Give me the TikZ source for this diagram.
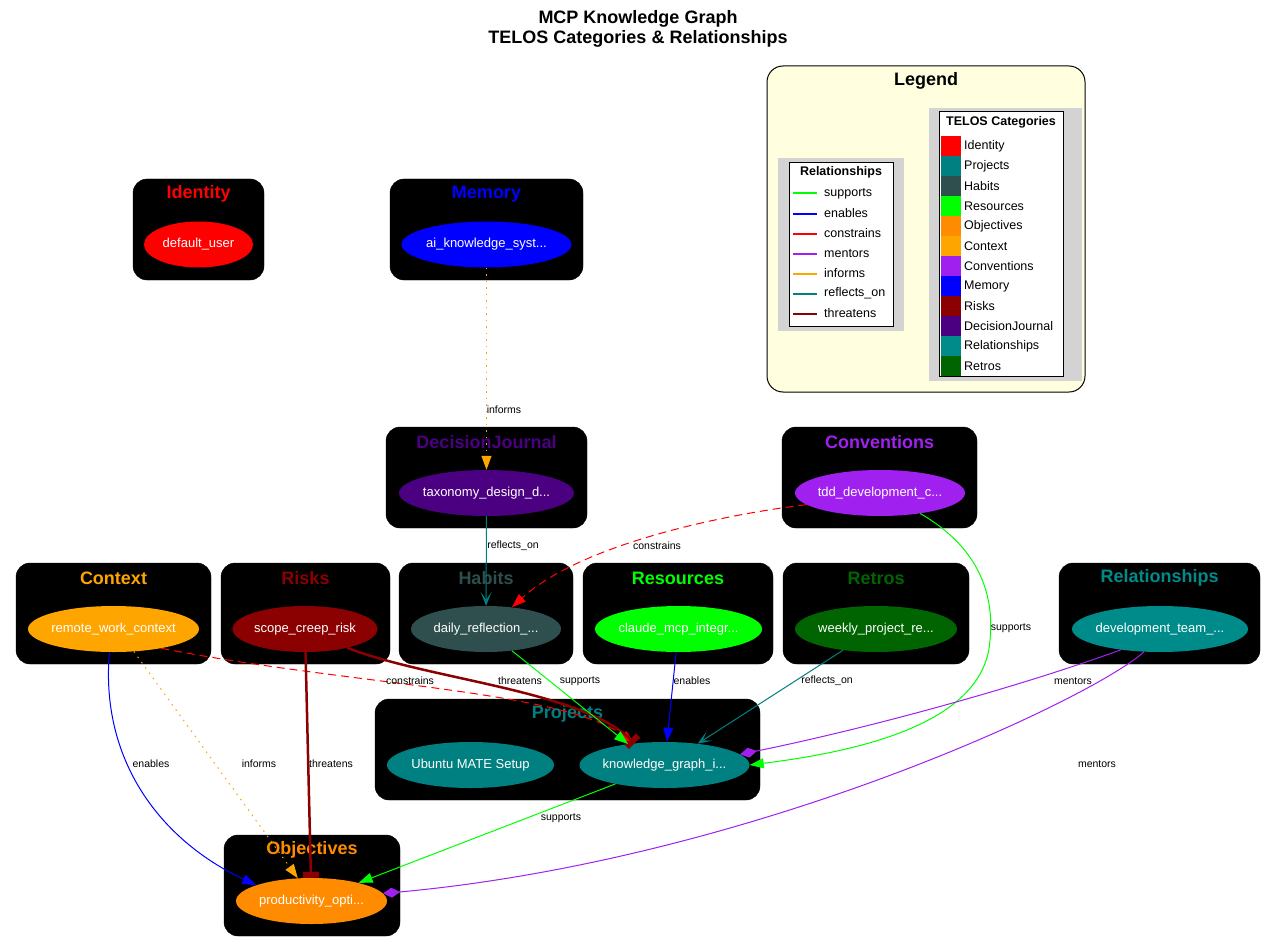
\documentclass[tikz,border=0pt]{standalone}
\usepackage{fontspec}
\setmainfont{Liberation Sans}
\usetikzlibrary{arrows.meta,shapes.geometric}
\definecolor{colIdentity}{HTML}{FF0000}
\definecolor{colProjects}{HTML}{008080}
\definecolor{colHabits}{HTML}{2F4F4F}
\definecolor{colResources}{HTML}{00FF00}
\definecolor{colObjectives}{HTML}{FF8C00}
\definecolor{colContext}{HTML}{FFA500}
\definecolor{colConventions}{HTML}{A020F0}
\definecolor{colMemory}{HTML}{0000FF}
\definecolor{colRisks}{HTML}{8B0000}
\definecolor{colDecision}{HTML}{4B0082}
\definecolor{colRelations}{HTML}{008B8B}
\definecolor{colRetros}{HTML}{006400}
\definecolor{legendYellow}{HTML}{FFFFE0}
\definecolor{legendGrey}{HTML}{D3D3D3}
% one TELOS category box: name, x1, y1, x2, y2, colour, title
\newcommand{\telosbox}[7]{%
  \draw[cluster] (#2,#3) rectangle (#4,#5);
  \node[ctitle, text=#6] (#1) at ({(#2+#4)/2},{#3+15}) {#7};
}
% legend rows: name, y, colour, text
\newcommand{\relrow}[4]{%
  \draw[line width=2pt, #3] (793,#2) -- (817,#2);
  \node[legtext, anchor=west] (#1) at (823,#2) {#4};
}
\newcommand{\catrow}[4]{%
  \fill[#3] (941,#2) rectangle (961,{#2+20});
  \node[legtext, anchor=west] (#1) at (963,{#2+10}) {#4};
}

\begin{document}
\begin{tikzpicture}[x=1pt, y=-1pt,
    cluster/.style={draw=black, fill=black, rounded corners=14pt},
    ctitle/.style={font=\fontsize{18}{20}\selectfont\bfseries, inner sep=0pt},
    item/.style={ellipse, inner xsep=-8pt, inner ysep=0pt, minimum height=46pt, text=white,
      font=\fontsize{13}{15}\selectfont},
    lbl/.style={font=\fontsize{10.5}{12}\selectfont, inner sep=1pt},
    legtext/.style={font=\fontsize{12.5}{14}\selectfont, inner sep=1pt},
    edge/.style={line width=1pt, -{Triangle[length=14pt, width=10pt]}},
    supports/.style={edge, draw=colResources},
    enables/.style={edge, draw=colMemory},
    constrains/.style={edge, draw=colIdentity, dash pattern=on 8pt off 5pt},
    informs/.style={edge, draw=colContext, dash pattern=on 1.5pt off 5pt},
    reflects/.style={line width=1pt, draw=colProjects,
      -{Stealth[length=14pt, width=11pt, inset=8pt]}},
    mentors/.style={line width=1pt, draw=colConventions,
      -{Diamond[length=17pt, width=10pt]}},
    threatens/.style={line width=2.5pt, draw=colRisks,
      -{Rectangle[length=6pt, width=16pt]}}]
  \fill[white] (0,0) rectangle (1276,952);
  \node[font=\fontsize{18}{19.7}\selectfont\bfseries, align=center] (title) at (638,29)
    {MCP Knowledge Graph\\TELOS Categories \& Relationships};

  % ---------------------------------------------------------------- legend
  \draw[fill=legendYellow, rounded corners=16pt, line width=1pt] (767,66) rectangle (1085,392);
  \node[font=\fontsize{18}{20}\selectfont\bfseries] (legTitle) at (926,81) {Legend};
  \fill[legendGrey] (778,158) rectangle (904,331);
  \draw[fill=white, line width=1pt] (789,163) rectangle (893,326);
  \node[legtext, font=\fontsize{12.5}{14}\selectfont\bfseries] (relHead) at (841,172) {Relationships};
  \relrow{rSupports}{193.5}{colResources}{supports}
  \relrow{rEnables}{213.5}{colMemory}{enables}
  \relrow{rConstrains}{233.5}{colIdentity}{constrains}
  \relrow{rMentors}{253.5}{colConventions}{mentors}
  \relrow{rInforms}{273.5}{colContext}{informs}
  \relrow{rReflects}{293.5}{colProjects}{reflects\_on}
  \relrow{rThreatens}{313.5}{colRisks}{threatens}
  \fill[legendGrey] (929,108) rectangle (1082,381);
  \draw[fill=white, line width=1pt] (939,112) rectangle (1063,376);
  \node[legtext, font=\fontsize{12.5}{14}\selectfont\bfseries] (catHead) at (1001,122.5) {TELOS Categories};
  \catrow{kIdentity}{136}{colIdentity}{Identity}
  \catrow{kProjects}{156}{colProjects}{Projects}
  \catrow{kHabits}{176}{colHabits}{Habits}
  \catrow{kResources}{196}{colResources}{Resources}
  \catrow{kObjectives}{216}{colObjectives}{Objectives}
  \catrow{kContext}{236}{colContext}{Context}
  \catrow{kConventions}{256}{colConventions}{Conventions}
  \catrow{kMemory}{276}{colMemory}{Memory}
  \catrow{kRisks}{296}{colRisks}{Risks}
  \catrow{kDecision}{316}{colDecision}{DecisionJournal}
  \catrow{kRelations}{336}{colRelations}{Relationships}
  \catrow{kRetros}{356}{colRetros}{Retros}

  % ---------------------------------------------------------------- category boxes
  \telosbox{tIdentity}{133}{179}{264}{280}{colIdentity}{Identity}
  \telosbox{tMemory}{390}{179}{583}{280}{colMemory}{Memory}
  \telosbox{tDecision}{386}{427}{587}{528}{colDecision}{DecisionJournal}
  \telosbox{tConventions}{782}{427}{977}{528}{colConventions}{Conventions}
  \telosbox{tContext}{16}{563}{211}{664}{colContext}{Context}
  \telosbox{tRisks}{221}{563}{390}{664}{colRisks}{Risks}
  \telosbox{tHabits}{399}{563}{573}{664}{colHabits}{Habits}
  \telosbox{tResources}{583}{563}{773}{664}{colResources}{Resources}
  \telosbox{tRetros}{783}{563}{969}{664}{colRetros}{Retros}
  \telosbox{tRelations}{1059}{563}{1260}{664}{colRelations}{Relationships}
  \telosbox{tProjects}{375}{699}{760}{800}{colProjects}{Projects}
  \telosbox{tObjectives}{224}{835}{400}{936}{colObjectives}{Objectives}

  % ---------------------------------------------------------------- entities
  \node[item, fill=colIdentity, minimum width=109pt] (defUser) at (198.5,244.5) {default\_user};
  \node[item, fill=colMemory, minimum width=170pt] (aiKnow) at (486.5,244.5) {ai\_knowledge\_syst...};
  \node[item, fill=colDecision, minimum width=175pt] (taxDes) at (486.5,493) {taxonomy\_design\_d...};
  \node[item, fill=colConventions, minimum width=170pt] (tddDev) at (880,493) {tdd\_development\_c...};
  \node[item, fill=colContext, minimum width=171pt] (remWork) at (113.5,629) {remote\_work\_context};
  \node[item, fill=colRisks, minimum width=145pt] (scopeRisk) at (305,629) {scope\_creep\_risk};
  \node[item, fill=colHabits, minimum width=150pt] (dailyRef) at (486,629) {daily\_reflection\_...};
  \node[item, fill=colResources, minimum width=167pt] (claudeMcp) at (678.5,629) {claude\_mcp\_integr...};
  \node[item, fill=colRetros, minimum width=162pt] (weeklyRe) at (876,629) {weekly\_project\_re...};
  \node[item, fill=colRelations, minimum width=176pt] (devTeam) at (1160,629) {development\_team\_...};
  \node[item, fill=colProjects, minimum width=167pt] (ubuntu) at (470.5,765) {Ubuntu MATE Setup};
  \node[item, fill=colProjects, minimum width=170pt] (kgraph) at (664.5,765) {knowledge\_graph\_i...};
  \node[item, fill=colObjectives, minimum width=151pt] (prodOpt) at (311.5,901) {productivity\_opti...};

  % ---------------------------------------------------------------- relationships
  \draw[informs] (aiKnow) -- (taxDes);
  \draw[reflects] (taxDes) -- (dailyRef);
  \draw[constrains] (tddDev.189) .. controls (720,515) and (580,545) .. (dailyRef.40);
  \draw[supports] (tddDev.-27) .. controls (975,545) and (995,590) .. (990,640)
    .. controls (985,720) and (870,750) .. (kgraph.0);
  \draw[constrains] (remWork.-22) .. controls (350,685) and (560,690) .. (kgraph.144);
  \draw[threatens] (scopeRisk.-24) .. controls (430,680) and (580,690) .. (kgraph.144);
  \draw[supports] (dailyRef.-40) -- (kgraph.150);
  \draw[enables] (claudeMcp) -- (kgraph);
  \draw[reflects] (weeklyRe) -- (kgraph);
  \draw[mentors] (devTeam.208) .. controls (1010,690) and (860,730) .. (kgraph.8);
  \draw[mentors] (devTeam.235) .. controls (1090,700) and (750,860) .. (prodOpt.6);
  \draw[enables] (remWork.-100) .. controls (100,760) and (160,840) .. (prodOpt.164);
  \draw[informs] (remWork.-48) -- (prodOpt.121);
  \draw[threatens] (scopeRisk) -- (prodOpt);
  \draw[supports] (kgraph) -- (prodOpt);

  % edge labels
  \node[lbl] (lInformsA) at (504,410) {informs};
  \node[lbl] (lReflectsA) at (513,546) {reflects\_on};
  \node[lbl] (lConstrainsA) at (657,546) {constrains};
  \node[lbl] (lSupportsA) at (1011,628) {supports};
  \node[lbl] (lConstrainsB) at (410,681) {constrains};
  \node[lbl] (lThreatensA) at (520,681) {threatens};
  \node[lbl] (lSupportsB) at (580,681) {supports};
  \node[lbl] (lEnablesA) at (692,681) {enables};
  \node[lbl] (lReflectsB) at (827,681) {reflects\_on};
  \node[lbl] (lMentorsA) at (1073,681) {mentors};
  \node[lbl] (lEnablesB) at (151,764) {enables};
  \node[lbl] (lInformsB) at (259,764) {informs};
  \node[lbl] (lThreatensB) at (331,764) {threatens};
  \node[lbl] (lMentorsB) at (1097,764) {mentors};
  \node[lbl] (lSupportsC) at (561,818) {supports};
\end{tikzpicture}
\end{document}
